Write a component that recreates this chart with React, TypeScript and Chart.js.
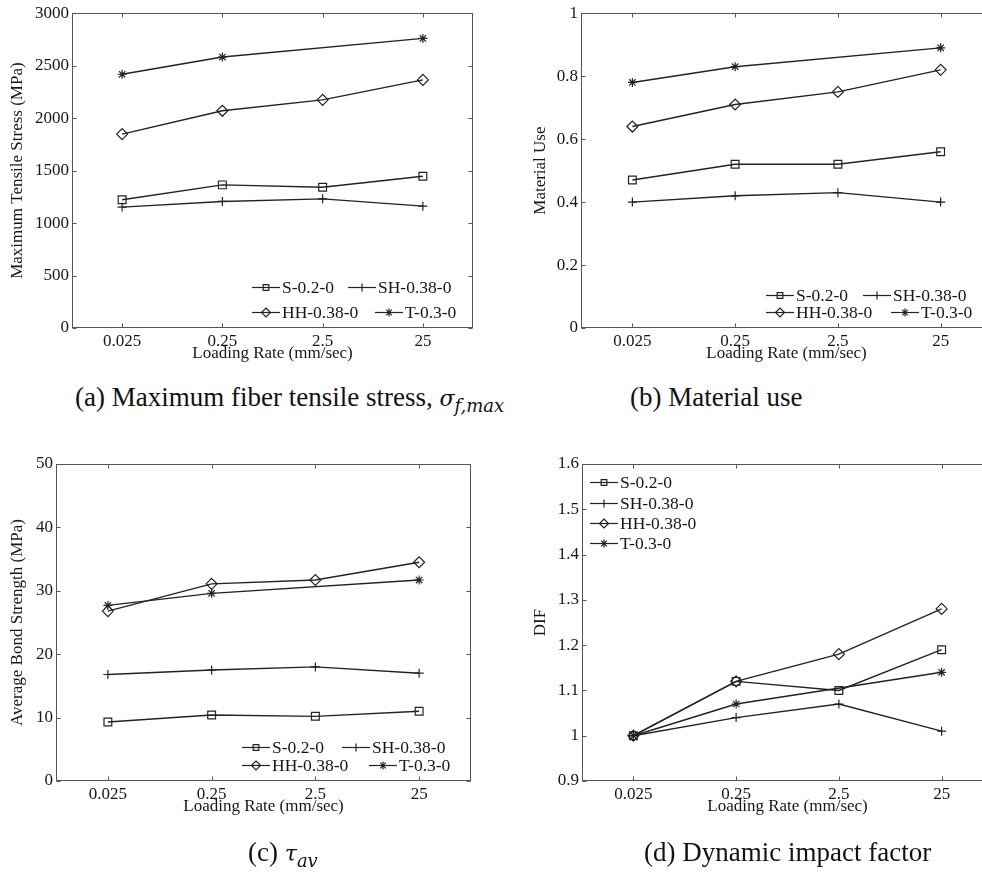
import React, { useEffect, useRef } from 'react';
import { Chart, registerables } from 'chart.js';

Chart.register(...registerables);

// ---------- data ----------
const xLabels = ['0.025', '0.25', '2.5', '25'];
const seriesNames = ['S-0.2-0', 'SH-0.38-0', 'HH-0.38-0', 'T-0.3-0'];
const markerStyles = ['rect', 'cross', 'rectRot', 'star'];

// (a) Maximum tensile stress (MPa)
const stressS = [1222, 1364, 1342, 1446];
const stressSH = [1152, 1206, 1231, 1161];
const stressHH = [1848, 2070, 2174, 2364];
const stressT = [2418, 2582, null, 2760];

// (b) Material use
const useS = [0.47, 0.52, 0.52, 0.56];
const useSH = [0.40, 0.42, 0.43, 0.40];
const useHH = [0.64, 0.71, 0.75, 0.82];
const useT = [0.78, 0.83, null, 0.89];

// (c) Average bond strength (MPa)
const bondS = [9.3, 10.4, 10.2, 11.0];
const bondSH = [16.8, 17.5, 18.0, 17.0];
const bondHH = [26.8, 31.1, 31.7, 34.5];
const bondT = [27.7, 29.6, null, 31.7];

// (d) Dynamic impact factor
const difS = [1.0, 1.12, 1.10, 1.19];
const difSH = [1.0, 1.04, 1.07, 1.01];
const difHH = [1.0, 1.12, 1.18, 1.28];
const difT = [1.0, 1.07, null, 1.14];

// ---------- style ----------
const FONT = '"Liberation Serif", "Times New Roman", serif';
const TEXT = '#161616';
const LINE = '#222222';
const FRAME = '#555555';
const TICK_LEN = 4;

function drawMarker(ctx: CanvasRenderingContext2D, style: string, x: number, y: number, r: number) {
  ctx.beginPath();
  if (style === 'rect') {
    const s = r * Math.SQRT1_2;
    ctx.rect(x - s, y - s, 2 * s, 2 * s);
  } else if (style === 'rectRot') {
    ctx.moveTo(x, y - r);
    ctx.lineTo(x + r, y);
    ctx.lineTo(x, y + r);
    ctx.lineTo(x - r, y);
    ctx.closePath();
  } else if (style === 'cross') {
    ctx.moveTo(x - r, y);
    ctx.lineTo(x + r, y);
    ctx.moveTo(x, y - r);
    ctx.lineTo(x, y + r);
  } else {
    const d = r * Math.SQRT1_2;
    ctx.moveTo(x - r, y);
    ctx.lineTo(x + r, y);
    ctx.moveTo(x, y - r);
    ctx.lineTo(x, y + r);
    ctx.moveTo(x - d, y - d);
    ctx.lineTo(x + d, y + d);
    ctx.moveTo(x - d, y + d);
    ctx.lineTo(x + d, y - d);
  }
  ctx.stroke();
}

const decorPlugin = {
  id: 'decor',
  afterDraw(chart: any, _args: any, opts: any) {
    const ctx: CanvasRenderingContext2D = chart.ctx;
    const a = chart.chartArea;
    const xs = chart.scales.x;
    const ys = chart.scales.y;
    ctx.save();
    // frame
    ctx.strokeStyle = FRAME;
    ctx.lineWidth = 1;
    const L = Math.round(a.left) + 0.5;
    const T = Math.round(a.top) + 0.5;
    const R = Math.round(a.right) - 0.5;
    const B = Math.round(a.bottom) - 0.5;
    ctx.strokeRect(L, T, R - L, B - T);
    // inward ticks
    ctx.beginPath();
    xs.ticks.forEach((_t: any, i: number) => {
      const px = Math.round(xs.getPixelForTick(i)) + 0.5;
      ctx.moveTo(px, T);
      ctx.lineTo(px, T + TICK_LEN);
      ctx.moveTo(px, B);
      ctx.lineTo(px, B - TICK_LEN);
    });
    ys.ticks.forEach((_t: any, i: number) => {
      const py = Math.round(ys.getPixelForTick(i)) + 0.5;
      ctx.moveTo(L, py);
      ctx.lineTo(L + TICK_LEN, py);
      ctx.moveTo(R, py);
      ctx.lineTo(R - TICK_LEN, py);
    });
    ctx.stroke();
    // axis titles
    ctx.fillStyle = TEXT;
    ctx.font = `17px ${FONT}`;
    ctx.textAlign = 'center';
    ctx.textBaseline = 'middle';
    ctx.fillText(opts.xTitle, (a.left + a.right) / 2, a.bottom + opts.xTitleDy);
    ctx.save();
    ctx.translate(opts.yTitleX, (a.top + a.bottom) / 2);
    ctx.rotate(-Math.PI / 2);
    ctx.fillText(opts.yTitle, 0, 0);
    ctx.restore();
    // legend
    ctx.textAlign = 'left';
    ctx.font = `17.5px ${FONT}`;
    ctx.lineWidth = 1.2;
    ctx.strokeStyle = LINE;
    opts.legend.forEach((pos: { x: number; y: number }, i: number) => {
      const ds = chart.data.datasets[i];
      ctx.beginPath();
      ctx.moveTo(pos.x, pos.y + 0.5);
      ctx.lineTo(pos.x + 28, pos.y + 0.5);
      ctx.stroke();
      drawMarker(ctx, ds.pointStyle, pos.x + 14, pos.y + 0.5, ds.pointStyle === 'rectRot' ? 4.5 : 4);
      ctx.fillText(ds.label, pos.x + 30, pos.y + 1);
    });
    ctx.restore();
  },
};

type Panel = {
  left: number; top: number; width: number; height: number;
  area: { left: number; top: number; right: number; bottom: number };
  yMin: number; yMax: number; yStep: number;
  yTitle: string; yTitleX: number;
  series: (number | null)[][];
  legend: { x: number; y: number }[];
};

const panels: Panel[] = [
  {
    left: 0, top: 0, width: 491, height: 372,
    area: { left: 72, top: 12, right: 473, bottom: 328 },
    yMin: 0, yMax: 3000, yStep: 500,
    yTitle: 'Maximum Tensile Stress (MPa)', yTitleX: 18,
    series: [stressS, stressSH, stressHH, stressT],
    legend: [{ x: 252, y: 287 }, { x: 348, y: 287 }, { x: 252, y: 312 }, { x: 375, y: 312 }],
  },
  {
    left: 491, top: 0, width: 520, height: 372,
    area: { left: 90, top: 12, right: 501, bottom: 328 },
    yMin: 0, yMax: 1, yStep: 0.2,
    yTitle: 'Material Use', yTitleX: 50,
    series: [useS, useSH, useHH, useT],
    legend: [{ x: 275, y: 295 }, { x: 372, y: 295 }, { x: 275, y: 312 }, { x: 400, y: 312 }],
  },
  {
    left: 0, top: 420, width: 491, height: 420,
    area: { left: 56, top: 44, right: 471, bottom: 361 },
    yMin: 0, yMax: 50, yStep: 10,
    yTitle: 'Average Bond Strength (MPa)', yTitleX: 18,
    series: [bondS, bondSH, bondHH, bondT],
    legend: [{ x: 242, y: 327 }, { x: 342, y: 327 }, { x: 242, y: 345 }, { x: 369, y: 345 }],
  },
  {
    left: 491, top: 420, width: 520, height: 420,
    area: { left: 91, top: 44, right: 502, bottom: 361 },
    yMin: 0.9, yMax: 1.6, yStep: 0.1,
    yTitle: 'DIF', yTitleX: 50,
    series: [difS, difSH, difHH, difT],
    legend: [{ x: 99, y: 62 }, { x: 99, y: 83 }, { x: 99, y: 103 }, { x: 99, y: 123 }],
  },
];

function ChartPanel({ p }: { p: Panel }) {
  const ref = useRef<HTMLCanvasElement>(null);
  useEffect(() => {
    const tickFont = { family: FONT, size: 17 };
    const chart = new Chart(ref.current as HTMLCanvasElement, {
      type: 'line',
      data: {
        labels: xLabels,
        datasets: p.series.map((vals, i) => ({
          label: seriesNames[i],
          data: vals,
          borderColor: LINE,
          borderWidth: 1.4,
          pointStyle: markerStyles[i],
          pointRadius: markerStyles[i] === 'rectRot' ? 5.5 : markerStyles[i] === 'rect' ? 5.5 : 4.5,
          pointBorderColor: LINE,
          pointBorderWidth: 1.2,
          pointBackgroundColor: 'rgba(0,0,0,0)',
          spanGaps: true,
          tension: 0,
          fill: false,
        })),
      },
      options: {
        animation: false,
        responsive: false,
        maintainAspectRatio: false,
        events: [],
        layout: {
          padding: { left: 0, top: p.area.top, right: p.width - p.area.right, bottom: 0 },
        },
        plugins: {
          legend: { display: false },
          tooltip: { enabled: false },
          decor: {
            xTitle: 'Loading Rate (mm/sec)',
            xTitleDy: 26,
            yTitle: p.yTitle,
            yTitleX: p.yTitleX,
            legend: p.legend,
          },
        } as any,
        scales: {
          x: {
            type: 'category',
            offset: true,
            grid: { display: false, drawTicks: false },
            border: { display: false },
            ticks: { font: tickFont, color: TEXT, padding: 3, maxRotation: 0, autoSkip: false },
            afterFit: (s: any) => { s.height = p.height - p.area.bottom; },
          },
          y: {
            type: 'linear',
            min: p.yMin,
            max: p.yMax,
            grid: { display: false, drawTicks: false },
            border: { display: false },
            ticks: {
              stepSize: p.yStep,
              font: tickFont,
              color: TEXT,
              padding: 3,
              autoSkip: false,
              callback: (v: any) => String(+Number(v).toFixed(2)),
            },
            afterFit: (s: any) => { s.width = p.area.left; },
          },
        },
      },
      plugins: [decorPlugin],
    } as any);
    return () => chart.destroy();
  }, [p]);
  return (
    <canvas
      ref={ref}
      width={p.width}
      height={p.height}
      style={{ position: 'absolute', left: p.left, top: p.top, width: p.width, height: p.height }}
    />
  );
}

const captionStyle: React.CSSProperties = {
  position: 'absolute',
  fontFamily: FONT,
  fontSize: 27,
  lineHeight: '27px',
  color: '#111',
  whiteSpace: 'nowrap',
};
const mathStyle: React.CSSProperties = {
  fontFamily: '"DejaVu Serif", serif',
  fontStyle: 'italic',
  fontSize: 22,
};
const subStyle: React.CSSProperties = {
  fontFamily: '"DejaVu Serif", serif',
  fontStyle: 'italic',
  fontSize: 18,
  position: 'relative',
  top: 6,
};

export default function App() {
  return (
    <div
      style={{
        position: 'fixed', left: 0, top: 0, width: 982, height: 873,
        overflow: 'hidden', background: '#fff',
      }}
    >
      {panels.map((p, i) => (
        <ChartPanel key={i} p={p} />
      ))}
      <div style={{ ...captionStyle, left: 75, top: 384 }}>
        (a) Maximum fiber tensile stress, <span style={mathStyle}>σ</span>
        <span style={subStyle}>f,max</span>
      </div>
      <div style={{ ...captionStyle, left: 630, top: 384 }}>(b) Material use</div>
      <div style={{ ...captionStyle, left: 248, top: 839 }}>
        (c) <span style={mathStyle}>τ</span>
        <span style={subStyle}>av</span>
      </div>
      <div style={{ ...captionStyle, left: 644, top: 839 }}>(d) Dynamic impact factor</div>
    </div>
  );
}
